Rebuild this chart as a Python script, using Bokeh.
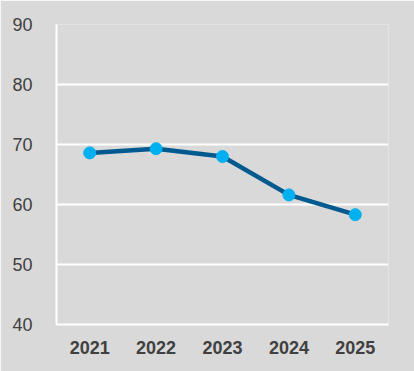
from bokeh.plotting import figure
from bokeh.models import Range1d, FactorRange, FixedTicker, ColumnDataSource
from bokeh.embed import file_html
from bokeh.resources import INLINE

years = ["2021", "2022", "2023", "2024", "2025"]
values = [68.6, 69.3, 68.0, 61.6, 58.3]
y_ticks = [40, 50, 60, 70, 80, 90]

BG = "#d9d9d9"
TXT = "#404040"

src = ColumnDataSource(dict(x=years, y=values))

p = figure(x_range=FactorRange(*years), y_range=Range1d(40, 90),
           width=414, height=371, output_backend="svg", toolbar_location=None,
           min_border_left=56, min_border_right=26, min_border_top=24, min_border_bottom=47)
p.background_fill_color = BG
p.border_fill_color = BG
p.outline_line_color = None

p.line("x", "y", source=src, line_color="#005a8f", line_width=4.5)
p.scatter("x", "y", source=src, size=12, fill_color="#00b0f0", line_color="#00b0f0")

p.xgrid.grid_line_color = None
p.ygrid.grid_line_color = "white"
p.ygrid.grid_line_width = 2
p.yaxis.ticker = FixedTicker(ticks=y_ticks)

for ax in (p.xaxis[0], p.yaxis[0]):
    ax.axis_line_color = "white"
    ax.axis_line_width = 2
    ax.major_tick_line_color = None
    ax.minor_tick_line_color = None
    ax.major_label_text_color = TXT
    ax.major_label_text_font = "Liberation Sans"
    ax.major_label_text_font_size = "18px"

p.xaxis.major_label_text_font_style = "bold"
p.xaxis.major_label_standoff = 10
p.yaxis.major_label_standoff = 18

html = file_html(p, INLINE)
open("out.html", "w").write(html)
